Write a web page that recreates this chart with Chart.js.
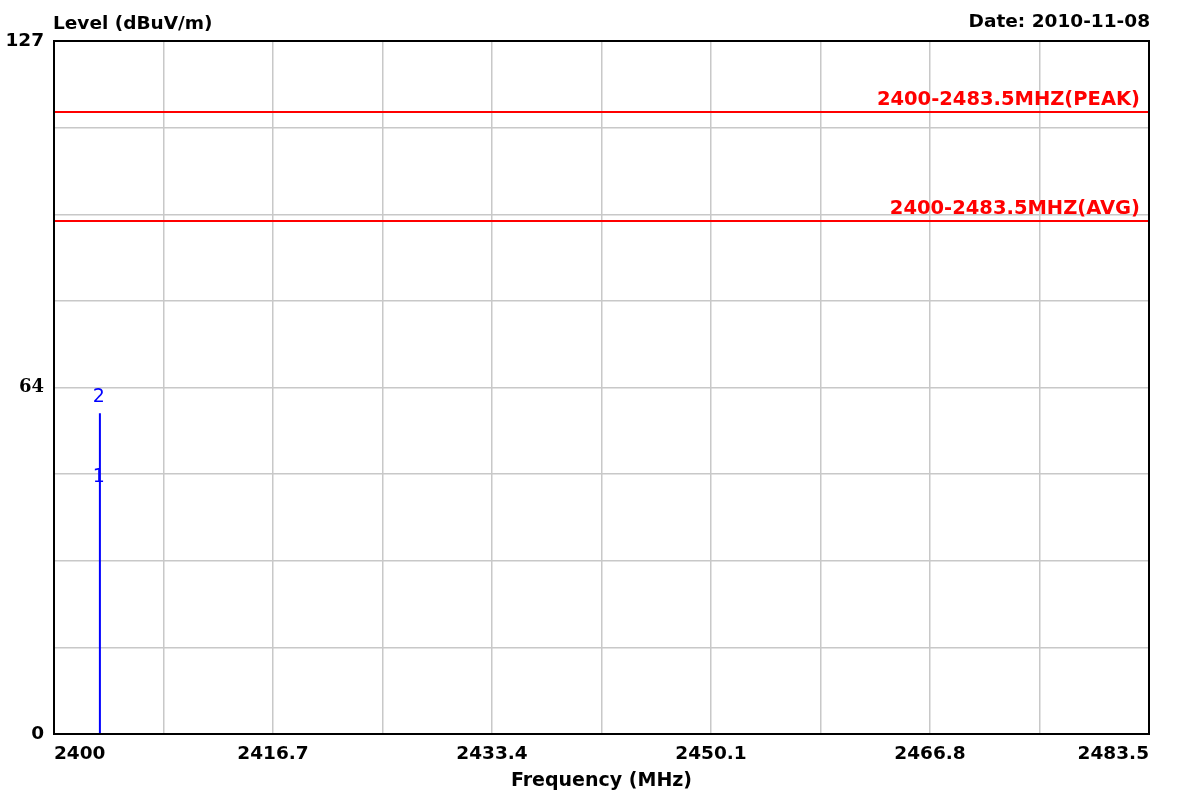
<!DOCTYPE html>
<html>
<head>
<meta charset="utf-8">
<script src="https://cdn.jsdelivr.net/npm/chart.js@4.4.1/dist/chart.umd.min.js"></script>
<style>
  html, body { margin: 0; padding: 0; background: #ffffff; }
  canvas { display: block; }
</style>
</head>
<body>
<canvas id="c" width="1177" height="796"></canvas>
<script>
// ---- data ----
const yTickValues = [0, 15.875, 31.75, 47.625, 63.5, 79.375, 95.25, 111.125, 127];
const yTickLabels = ['0', '', '', '', '64', '', '', '', '127'];
const xTickValues = [2400, 2408.35, 2416.7, 2425.05, 2433.4, 2441.75, 2450.1, 2458.45, 2466.8, 2475.15, 2483.5];
const xTickLabels = ['2400', '', '2416.7', '', '2433.4', '', '2450.1', '', '2466.8', '', '2483.5'];
const limitNames = ['2400-2483.5MHZ(PEAK)', '2400-2483.5MHZ(AVG)'];
const limitValues = [114, 94];
const traceFreqs = [2403.5, 2403.5];
const traceLevels = [0, 58.8];
const markerLabels = ['1', '2'];
const markerLevels = [47.1, 58.8];
const yTitle = 'Level (dBuV/m)';
const xTitle = 'Frequency (MHz)';
const dateText = 'Date: 2010-11-08';

const xMin = xTickValues[0], xMax = xTickValues[xTickValues.length - 1];
const yMin = yTickValues[0], yMax = yTickValues[yTickValues.length - 1];
const SANS = '"DejaVu Sans", sans-serif';

const datasets = limitValues.map((v, i) => ({
  label: limitNames[i],
  data: [{x: xMin, y: v}, {x: xMax, y: v}],
  showLine: true, borderColor: '#ff0000', borderWidth: 2,
  pointRadius: 0, fill: false
}));
datasets.push({
  label: 'trace',
  data: traceFreqs.map((f, i) => ({x: f, y: traceLevels[i]})),
  showLine: true, borderColor: '#0000ff', borderWidth: 2,
  pointRadius: 0, fill: false
});

const decor = {
  id: 'decor',
  beforeDraw(chart) {
    const c = chart.ctx;
    c.save();
    c.fillStyle = '#ffffff';
    c.fillRect(0, 0, chart.width, chart.height);
    c.restore();
  },
  afterDraw(chart) {
    const c = chart.ctx, a = chart.chartArea;
    const xs = chart.scales.x, ys = chart.scales.y;
    c.save();
    // frame
    c.strokeStyle = '#000000';
    c.lineWidth = 2;
    c.strokeRect(a.left, a.top, a.right - a.left, a.bottom - a.top);
    // header texts
    c.fillStyle = '#000000';
    c.font = 'bold 18.5px ' + SANS;
    c.textBaseline = 'alphabetic';
    c.textAlign = 'left';
    c.fillText(yTitle, a.left - 1, 29);
    c.textAlign = 'right';
    c.fillText(dateText, a.right + 1, 27);
    // limit labels
    c.fillStyle = '#ff0000';
    c.font = 'bold 19.5px ' + SANS;
    c.textAlign = 'right';
    limitValues.forEach((v, i) => {
      c.fillText(limitNames[i], xs.getPixelForValue(xMax) - 9, ys.getPixelForValue(v) - 7);
    });
    // marker labels
    c.fillStyle = '#0000ff';
    c.font = '19px ' + SANS;
    c.textAlign = 'center';
    c.textBaseline = 'middle';
    markerLabels.forEach((m, i) => {
      const px = xs.getPixelForValue(traceFreqs[0]) - 1;
      const off = (i === markerLabels.length - 1) ? -16 : 0;
      c.fillText(m, px, ys.getPixelForValue(markerLevels[i]) + off);
    });
    c.restore();
  }
};

new Chart(document.getElementById('c'), {
  type: 'scatter',
  data: { datasets },
  options: {
    responsive: false,
    animation: false,
    devicePixelRatio: 1,
    layout: { padding: { top: 41, right: 28, left: 0, bottom: 0 } },
    plugins: { legend: { display: false }, tooltip: { enabled: false } },
    scales: {
      x: {
        type: 'linear', min: xMin, max: xMax,
        afterBuildTicks(s) { s.ticks = xTickValues.map(v => ({value: v})); },
        afterFit(s) { s.height = 62; },
        grid: { color: '#c8c8c8', lineWidth: 1.5, drawTicks: false },
        border: { display: false },
        ticks: {
          autoSkip: false, maxRotation: 0, align: 'inner', padding: 9,
          color: '#000000',
          font: { family: SANS, size: 18.5, weight: 'bold' },
          callback: (v, i) => xTickLabels[i]
        },
        title: {
          display: true, text: xTitle, color: '#000000',
          font: { family: SANS, size: 19, weight: 'bold' },
          padding: { top: 0, bottom: 4 }
        }
      },
      y: {
        type: 'linear', min: yMin, max: yMax,
        afterBuildTicks(s) { s.ticks = yTickValues.map(v => ({value: v})); },
        afterFit(s) { s.width = 54; },
        grid: { color: '#c8c8c8', lineWidth: 1.5, drawTicks: false },
        border: { display: false },
        ticks: {
          autoSkip: false, padding: 10, color: '#000000',
          font: (ctx) => (ctx.index === 4
            ? { family: '"DejaVu Serif", serif', size: 18, weight: 'bold' }
            : { family: SANS, size: 18.5, weight: 'bold' }),
          callback: (v, i) => yTickLabels[i]
        }
      }
    }
  },
  plugins: [decor]
});
</script>
</body>
</html>
